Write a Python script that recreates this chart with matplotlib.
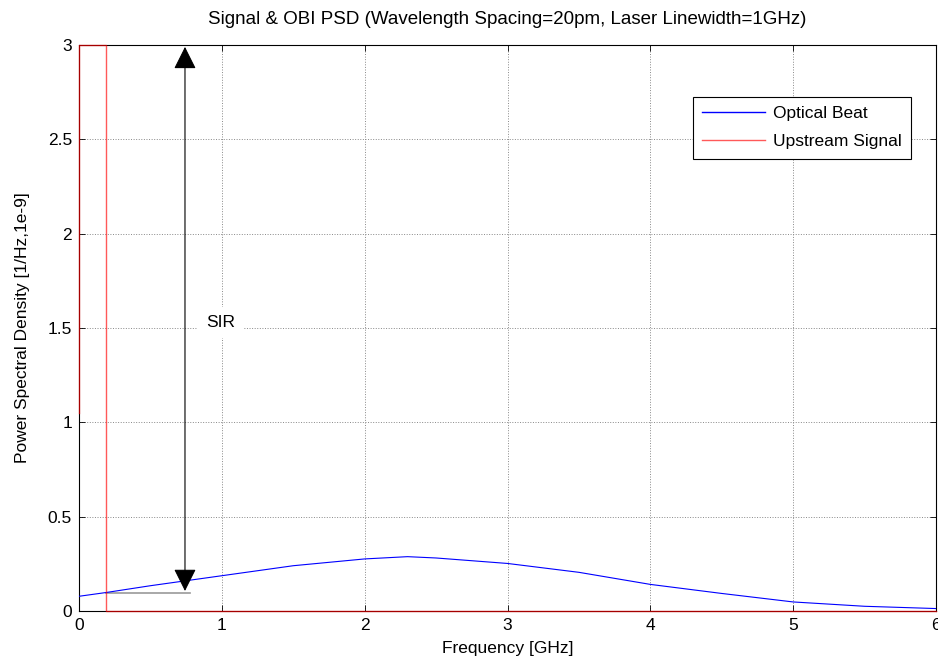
import matplotlib
matplotlib.use("Agg")
import matplotlib.pyplot as plt
from matplotlib.patches import FancyArrowPatch

plt.rcParams['font.family'] = ['Liberation Sans', 'DejaVu Sans']
plt.rcParams['font.size'] = 12.5

# optical beat PSD
beat_f = [0, 0.19, 0.5, 1, 1.5, 2, 2.3, 2.5, 3, 3.5, 4, 4.5, 5, 5.5, 6]
beat_psd = [0.078, 0.098, 0.134, 0.187, 0.24, 0.276, 0.288, 0.281, 0.252,
            0.205, 0.141, 0.093, 0.048, 0.025, 0.013]

# upstream signal (rectangle at low frequencies)
sig_f = [0, 0, 0.19, 0.19, 6]
sig_psd = [1.05, 3, 3, 0, 0]

# SIR annotation
sir_x = 0.742
sir_lo = 0.106
sir_hi = 2.99
ref_f = [0.19, 0.78]
ref_psd = [0.098, 0.098]

xticks = [0, 1, 2, 3, 4, 5, 6]
yticks = [0, 0.5, 1, 1.5, 2, 2.5, 3]
ytick_labels = ['0', '0.5', '1', '1.5', '2', '2.5', '3']

fig = plt.figure(figsize=(9.38, 6.63), dpi=100)
ax = fig.add_axes([79 / 938, 52 / 663, 857 / 938, 566 / 663])

ax.plot(beat_f, beat_psd, color='#0000ff', lw=0.8, label='Optical Beat', zorder=3)
ax.plot(sig_f, sig_psd, color='#ff0000', lw=1.0, alpha=0.65,
        label='Upstream Signal', zorder=3, clip_on=False)
ax.plot(ref_f, ref_psd, color='#999999', lw=1.2, zorder=2)

arr = FancyArrowPatch((sir_x, sir_lo), (sir_x, sir_hi),
                      arrowstyle='<|-|>,head_length=14,head_width=7',
                      mutation_scale=1, shrinkA=0, shrinkB=0,
                      color='black', lw=0.8, zorder=4)
ax.add_patch(arr)
ax.text(0.99, 1.53, 'SIR', ha='center', va='center', fontsize=12.5,
        bbox=dict(facecolor='white', edgecolor='none', pad=6), zorder=4)

ax.set_xlim(0, 6)
ax.set_ylim(0, 3)
ax.set_xticks(xticks)
ax.set_yticks(yticks)
ax.set_yticklabels(ytick_labels)
ax.tick_params(direction='in', length=4, width=0.6, top=True, right=True,
               labelsize=12.5, pad=5)
ax.grid(True, linestyle=':', color='#888888', lw=0.7)
for s in ax.spines.values():
    s.set_linewidth(0.8)

ax.set_xlabel('Frequency [GHz]', fontsize=12.5, labelpad=6)
ax.set_ylabel('Power Spectral Density [1/Hz,1e-9]', fontsize=12.5, labelpad=13)
ax.set_title('Signal & OBI PSD (Wavelength Spacing=20pm, Laser Linewidth=1GHz)',
             fontsize=13.5, pad=15)

leg = ax.legend(loc='lower right', bbox_to_anchor=(832 / 857, 452 / 566),
                borderaxespad=0, fancybox=False, framealpha=1,
                edgecolor='black', handlelength=3.6, handletextpad=0.45,
                borderpad=0.55, labelspacing=0.75, fontsize=12.5)
leg.get_frame().set_linewidth(0.8)
for h in leg.get_lines():
    h.set_linewidth(1.0)

fig.savefig('out.png', dpi=100)
